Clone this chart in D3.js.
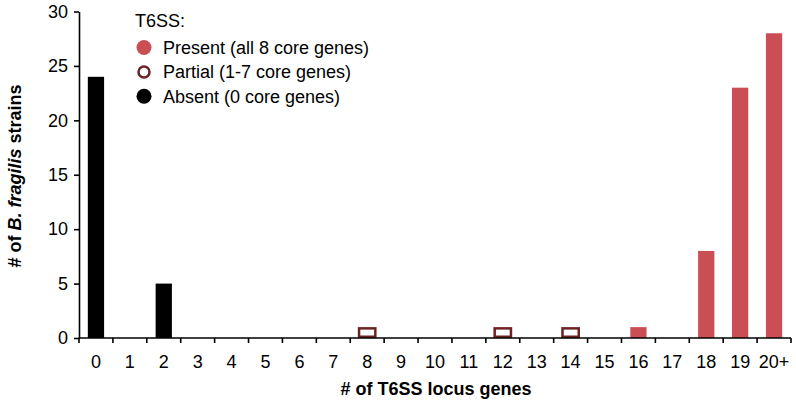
<!DOCTYPE html>
<html><head><meta charset="utf-8">
<script src="https://cdn.jsdelivr.net/npm/d3@7"></script>
<style>body{margin:0;background:#fff}svg{display:block}text{font-family:"Liberation Sans",Arial,sans-serif}</style>
</head><body><svg id="c" width="796" height="412"></svg>
<script>
const categories = ["0","1","2","3","4","5","6","7","8","9","10","11","12","13","14","15","16","17","18","19","20+"];
const counts     = [24,0,5,0,0,0,0,0,1,0,0,0,1,0,1,0,1,0,8,23,28];
const status     = ["absent","","absent","","","","","","partial","","","","partial","","partial","","present","","present","present","present"];
const yTicks = [0,5,10,15,20,25,30];
const legendItems = [
  {key:"present", label:"Present (all 8 core genes)"},
  {key:"partial", label:"Partial (1-7 core genes)"},
  {key:"absent",  label:"Absent (0 core genes)"}
];
const colors = {present:"#c94f55", partial:"#6e2222", absent:"#000"};

const svg = d3.select("#c");
const m = {l:79, r:5, t:12, b:74};
const x = d3.scaleBand().domain(categories).range([m.l, 791]).paddingInner(0.52).paddingOuter(0.26);
const y = d3.scaleLinear().domain([0,30]).range([338, 11.5]);
const FS = 18;

// bars
const data = categories.map((c,i)=>({c, v:counts[i], s:status[i]})).filter(d=>d.v>0);
svg.append("g").selectAll("rect").data(data).join("rect")
  .attr("x", d=>x(d.c)).attr("width", x.bandwidth())
  .attr("y", d=> d.s==="partial" ? y(d.v)+1.25 : y(d.v))
  .attr("height", d=> d.s==="partial" ? y(0)-y(d.v)-2.5 : y(0)-y(d.v))
  .attr("fill", d=> d.s==="partial" ? "#fff" : colors[d.s])
  .attr("stroke", d=> d.s==="partial" ? colors.partial : "none")
  .attr("stroke-width", 2.5);

// axes
const xa = d3.axisBottom(x).tickSize(0).tickPadding(17);
const gx = svg.append("g").attr("transform",`translate(0,${y(0)})`).call(xa);
gx.select(".domain").attr("stroke","#000").attr("stroke-width",1.6).attr("d",`M${m.l},0H791`);
gx.selectAll("text").attr("font-size",FS).attr("fill","#000");
const bounds = d3.range(categories.length+1).map(i=> m.l + i*(791-m.l)/categories.length);
gx.append("g").selectAll("line").data(bounds).join("line")
  .attr("x1",d=>d).attr("x2",d=>d).attr("y1",0).attr("y2",5).attr("stroke","#000").attr("stroke-width",1.6);

const ya = d3.axisLeft(y).tickValues(yTicks).tickSize(5).tickSizeOuter(0).tickPadding(6);
const gy = svg.append("g").attr("transform",`translate(${m.l},0)`).call(ya);
gy.select(".domain").attr("stroke","#000").attr("stroke-width",1.6);
gy.selectAll(".tick line").attr("stroke","#000").attr("stroke-width",1.6);
gy.selectAll("text").attr("font-size",FS).attr("fill","#000");

// axis titles
svg.append("text").attr("x",436).attr("y",395).attr("text-anchor","middle")
  .attr("font-size",FS).attr("font-weight","bold").text("# of T6SS locus genes");
const yt = svg.append("text").attr("transform","translate(21,176) rotate(-90)").attr("text-anchor","middle")
  .attr("font-size",FS).attr("font-weight","bold");
yt.append("tspan").text("# of ");
yt.append("tspan").attr("font-style","italic").text("B. fragilis");
yt.append("tspan").text(" strains");

// legend
const lg = svg.append("g");
lg.append("text").attr("x",135).attr("y",27).attr("font-size",FS).text("T6SS:");
legendItems.forEach((it,i)=>{
  const cy = 47.5 + i*24.4;
  if (it.key==="partial") {
    lg.append("circle").attr("cx",144).attr("cy",cy).attr("r",5.5).attr("fill","#fff").attr("stroke",colors.partial).attr("stroke-width",2.5);
  } else {
    lg.append("circle").attr("cx",144).attr("cy",cy).attr("r",7.5).attr("fill",colors[it.key]);
  }
  lg.append("text").attr("x",163).attr("y",cy+6.5).attr("font-size",FS).text(it.label);
});
</script></body></html>
